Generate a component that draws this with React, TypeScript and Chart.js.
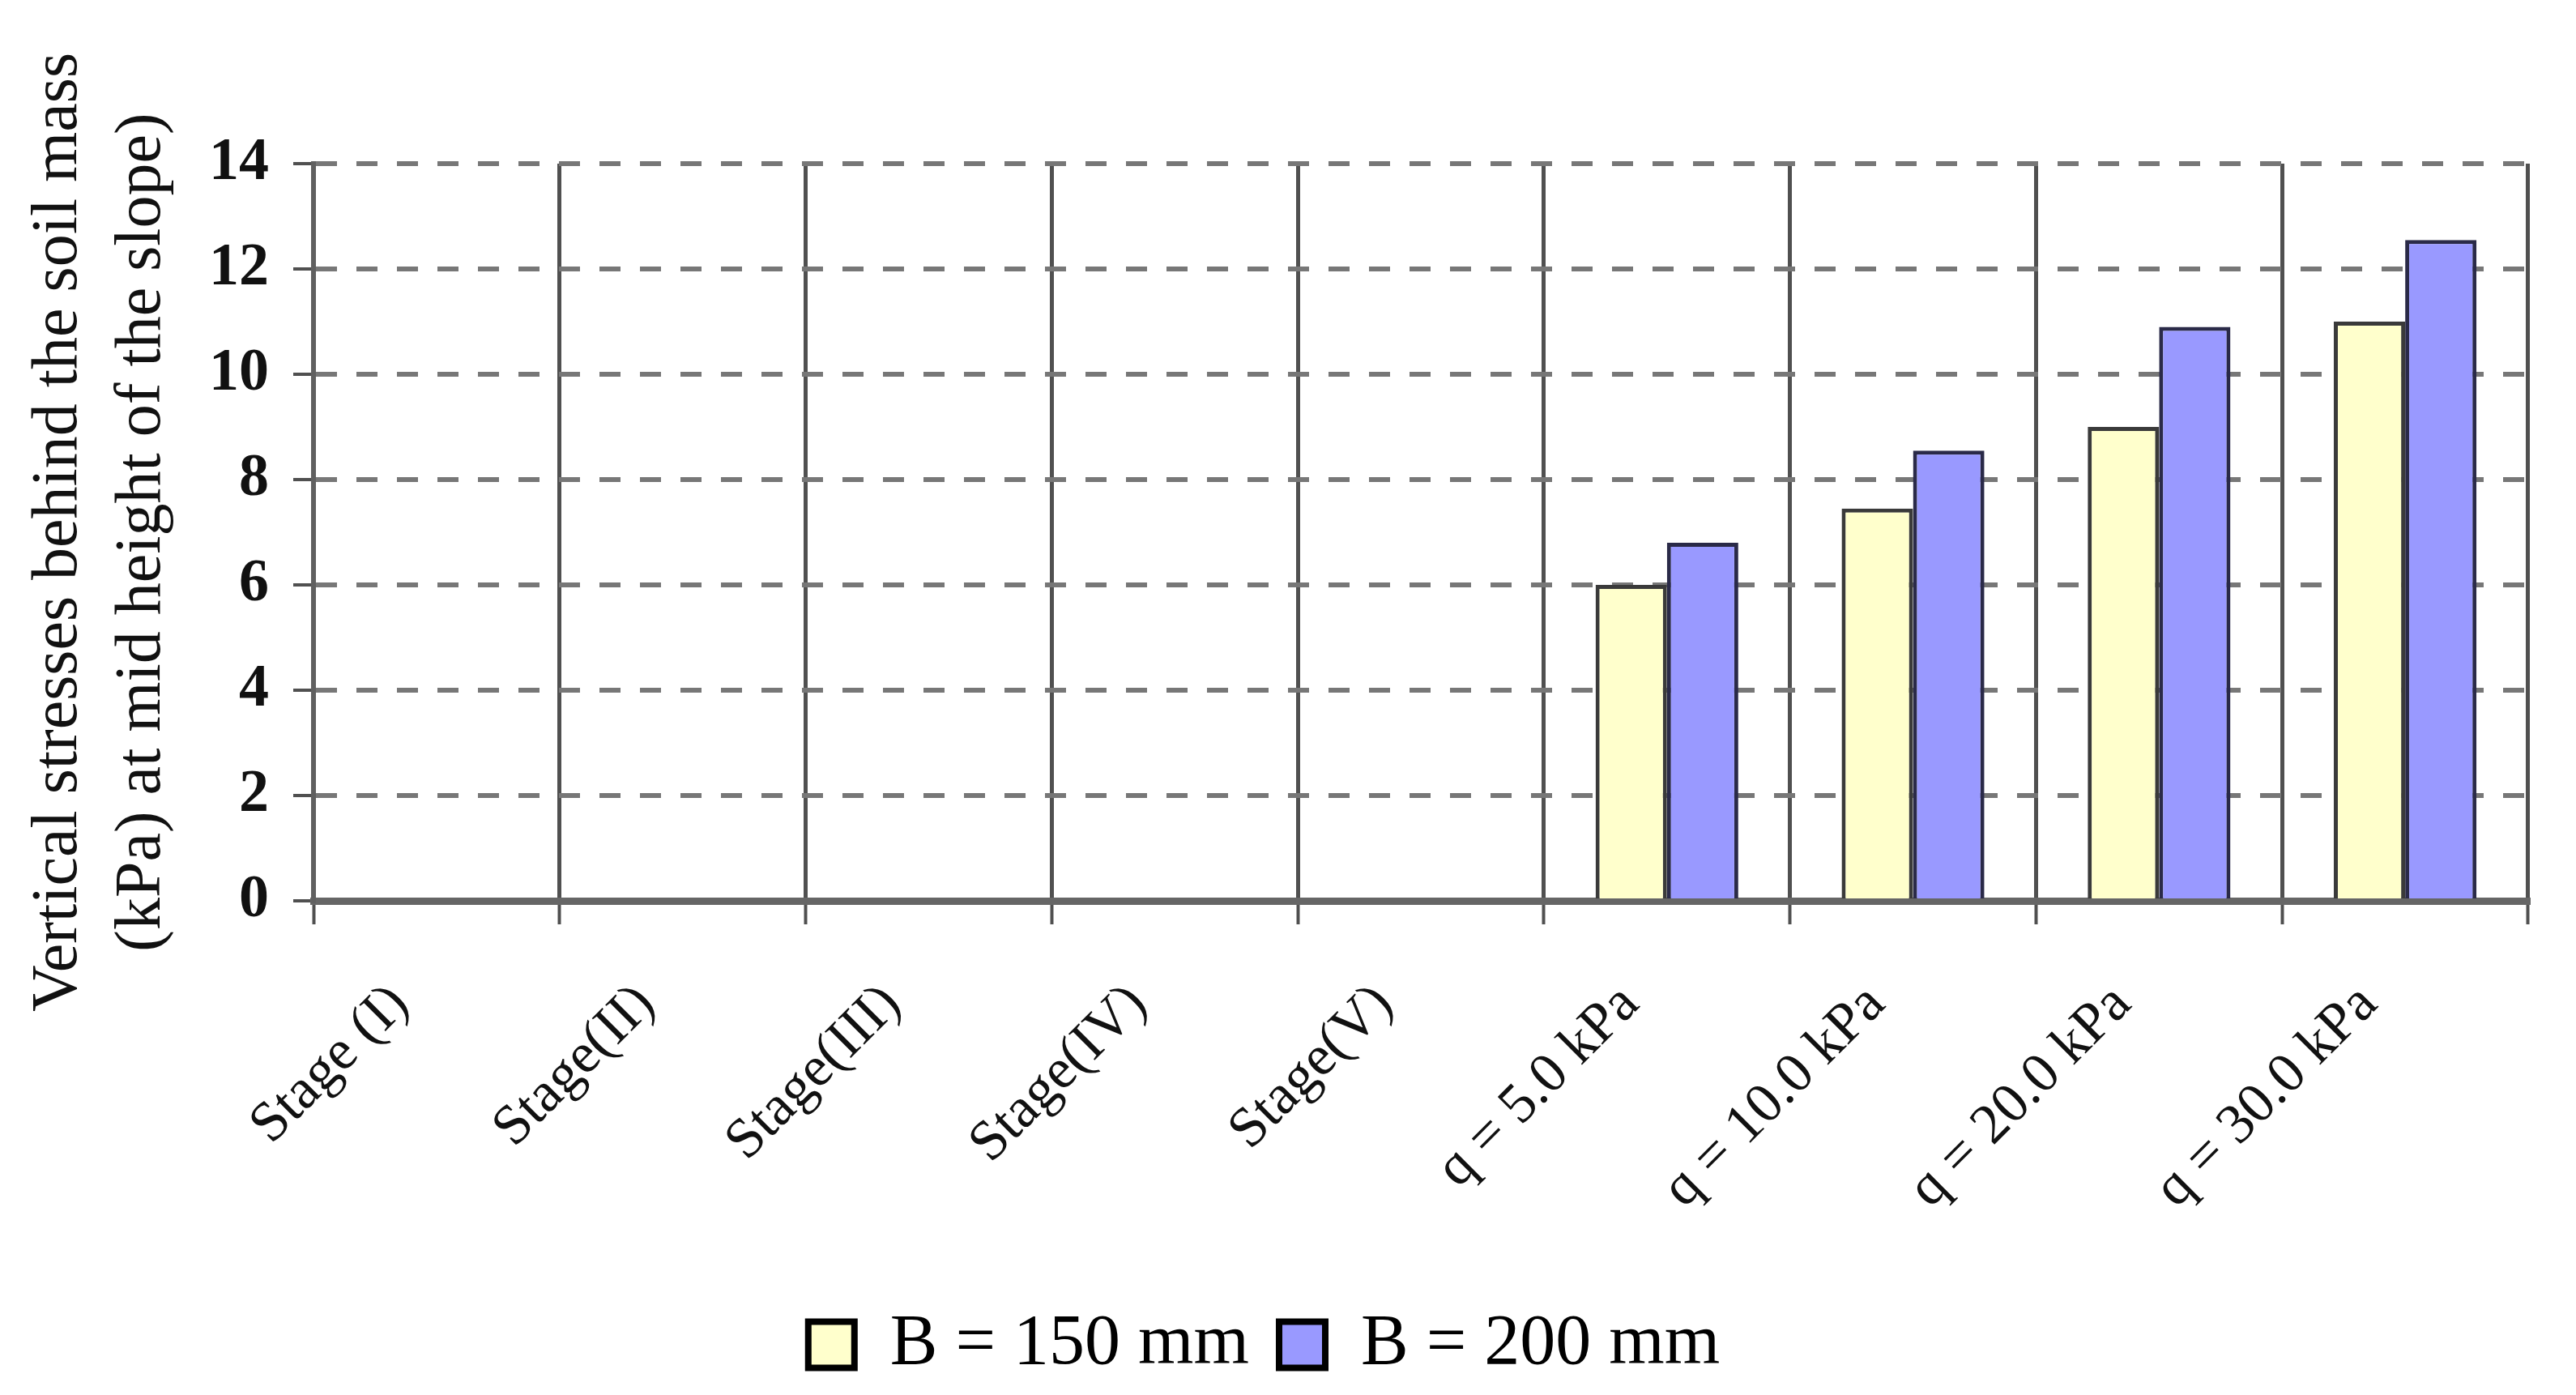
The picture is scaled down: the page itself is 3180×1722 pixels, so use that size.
import { useEffect, useRef } from "react";
import { Chart, registerables } from "chart.js";

Chart.register(...registerables);

const categories = [
  "Stage (I)",
  "Stage(II)",
  "Stage(III)",
  "Stage(IV)",
  "Stage(V)",
  "q = 5.0 kPa",
  "q = 10.0 kPa",
  "q = 20.0 kPa",
  "q = 30.0 kPa",
];
const b150 = [null, null, null, null, null, 6.0, 7.45, 9.0, 11.0];
const b200 = [null, null, null, null, null, 6.8, 8.55, 10.9, 12.55];
const seriesNames = ["B = 150 mm", "B = 200 mm"];
const yTitle = ["Vertical stresses behind the soil mass", "(kPa) at mid height of the slope)"];

const serif = "'Liberation Serif', 'Times New Roman', serif";

const App = () => {
  const chartRef = useRef(null);

  useEffect(() => {
    const ctx = chartRef.current.getContext("2d");

    const myChart = new Chart(ctx, {
      type: "bar",
      data: {
        labels: categories,
        datasets: [
          {
            label: seriesNames[0],
            data: b150,
            backgroundColor: "#FFFFCC",
            borderColor: "#3a3a3a",
            borderWidth: 5,
          },
          {
            label: seriesNames[1],
            data: b200,
            backgroundColor: "#9999FF",
            borderColor: "#2a2a48",
            borderWidth: 5,
          },
        ],
      },
      options: {
        responsive: true,
        maintainAspectRatio: false,
        animation: false,
        devicePixelRatio: 1,
        layout: {
          padding: { top: 202, left: 0, right: 59, bottom: 8 },
        },
        datasets: {
          bar: { categoryPercentage: 0.58, barPercentage: 1.0 },
        },
        plugins: {
          tooltip: { enabled: false },
          legend: {
            display: true,
            position: "bottom",
            labels: {
              color: "#000",
              font: { family: serif, size: 88 },
              boxWidth: 57,
              boxHeight: 57,
              padding: 37,
              generateLabels: (chart) =>
                Chart.defaults.plugins.legend.labels
                  .generateLabels(chart)
                  .map((l) => ({ ...l, lineWidth: 8, strokeStyle: "#000" })),
            },
          },
        },
        scales: {
          x: {
            offset: true,
            afterFit: (axis) => {
              axis.height = 467;
            },
            grid: {
              offset: true,
              color: "#505050",
              lineWidth: 5,
              tickLength: 29,
              tickColor: "#505050",
              tickWidth: 4,
            },
            border: { display: true, color: "#666", width: 9 },
            ticks: {
              color: "#111",
              font: { family: serif, size: 70 },
              minRotation: 45,
              maxRotation: 45,
              padding: 58,
              labelOffset: -45,
              autoSkip: false,
            },
          },
          y: {
            min: 0,
            max: 14,
            afterFit: (axis) => {
              axis.width = 387;
            },
            title: {
              display: true,
              text: yTitle,
              color: "#111",
              font: { family: serif, size: 80, lineHeight: 1.28 },
              padding: { top: 22, bottom: 0 },
            },
            grid: {
              color: "#777",
              lineWidth: 6,
              tickLength: 25,
              tickColor: "#505050",
              tickWidth: 4,
              tickBorderDash: [],
            },
            border: { display: true, color: "#606060", width: 6, dash: [26, 24] },
            ticks: {
              stepSize: 2,
              color: "#111",
              font: { family: serif, size: 74, weight: "bold" },
              padding: 30,
            },
          },
        },
      },
    });

    return () => {
      myChart.destroy();
    };
  }, []);

  return (
    <div style={{ position: "absolute", left: 0, top: 0, width: 3180, height: 1722, background: "#fff" }}>
      <canvas ref={chartRef} />
    </div>
  );
};

export default App;
